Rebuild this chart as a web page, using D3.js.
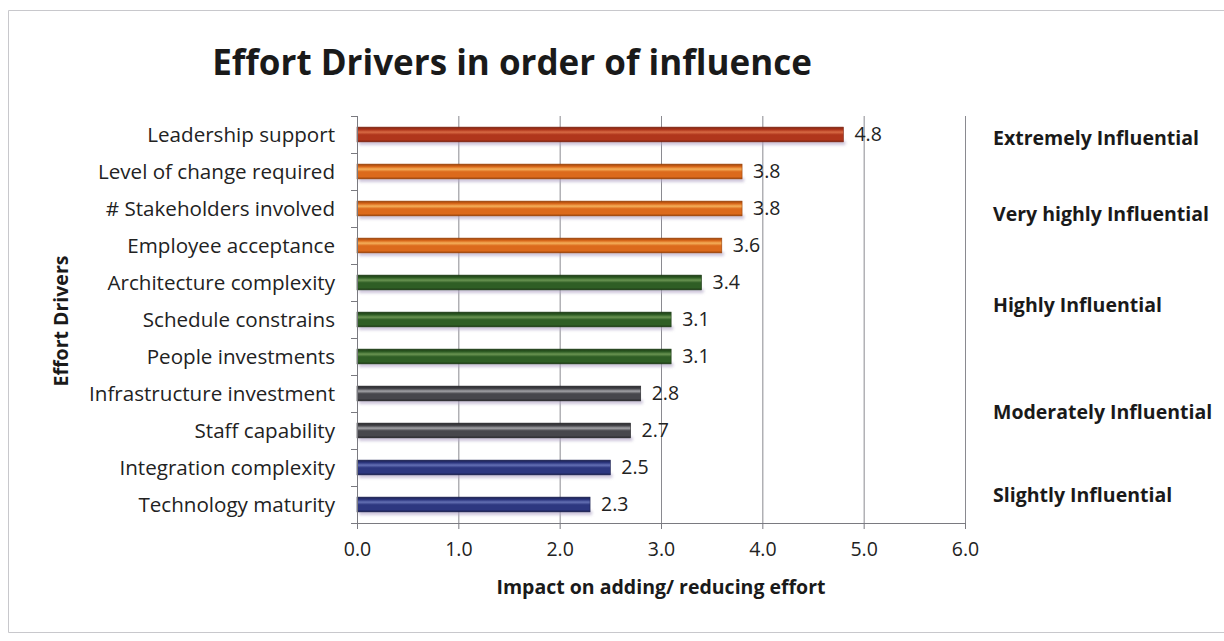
<!DOCTYPE html>
<html>
<head>
<meta charset="utf-8">
<script src="https://cdn.jsdelivr.net/npm/d3@7"></script>
<style>
  html, body { margin: 0; padding: 0; background: #fff; }
  svg { display: block; font-family: "Open Sans", Lato, sans-serif; }
</style>
</head>
<body>
<svg id="chart" width="1224" height="641"></svg>
<script>
// Effort drivers, ordered by influence (top to bottom)
const drivers = [
  "Leadership support",
  "Level of change required",
  "# Stakeholders involved",
  "Employee acceptance",
  "Architecture complexity",
  "Schedule constrains",
  "People investments",
  "Infrastructure investment",
  "Staff capability",
  "Integration complexity",
  "Technology maturity"
];
const scores = [4.8, 3.8, 3.8, 3.6, 3.4, 3.1, 3.1, 2.8, 2.7, 2.5, 2.3];
// Influence tier of each driver
const tiers = ["extreme", "veryHigh", "veryHigh", "veryHigh", "high", "high", "high", "moderate", "moderate", "slight", "slight"];

// Tier captions shown to the right of the plot, and the driver row each sits beside
const tierNames = ["Extremely Influential", "Very highly Influential", "Highly Influential", "Moderately Influential", "Slightly Influential"];
const tierRows = [0.1, 2.15, 4.6, 7.5, 9.75];

const xTicks = [0, 1, 2, 3, 4, 5, 6];

const tierColors = {
  extreme:  { dark: "#7e2412", base: "#b0361c", light: "#d86a44" },
  veryHigh: { dark: "#9a4208", base: "#dc6a1c", light: "#f5b05a" },
  high:     { dark: "#1c3a14", base: "#2f5e25", light: "#6a9452" },
  moderate: { dark: "#26262a", base: "#47474c", light: "#a4a4a8" },
  slight:   { dark: "#1a1f4e", base: "#2d3780", light: "#6470b4" }
};

const FONT = "'Open Sans', Lato, sans-serif";
const svg = d3.select("#chart");
const margin = { left: 357, right: 965, top: 116, bottom: 523 };

// Chart frame
svg.append("path")
  .attr("d", "M1224,10.5 H8.5 V632.5 H1224")
  .attr("fill", "none")
  .attr("stroke", "#c8c8cc")
  .attr("stroke-width", 1);

const x = d3.scaleLinear().domain([0, 6]).range([margin.left, margin.right]);
const y = d3.scaleBand().domain(drivers).range([margin.top, margin.bottom])
  .paddingInner(0.6).paddingOuter(0.3);
const rows = d3.scaleBand().domain(drivers).range([margin.top, margin.bottom]);

// Cylinder-style gradients and soft shadow
const defs = svg.append("defs");
Object.entries(tierColors).forEach(([k, c]) => {
  const g = defs.append("linearGradient").attr("id", "grad-" + k)
    .attr("x1", 0).attr("y1", 0).attr("x2", 0).attr("y2", 1);
  g.append("stop").attr("offset", "0%").attr("stop-color", c.dark);
  g.append("stop").attr("offset", "18%").attr("stop-color", c.base);
  g.append("stop").attr("offset", "34%").attr("stop-color", c.light);
  g.append("stop").attr("offset", "52%").attr("stop-color", c.base);
  g.append("stop").attr("offset", "85%").attr("stop-color", c.base);
  g.append("stop").attr("offset", "100%").attr("stop-color", c.dark);
});
const blur = defs.append("filter").attr("id", "shadow")
  .attr("x", "-5%").attr("y", "-100%").attr("width", "110%").attr("height", "300%");
blur.append("feGaussianBlur").attr("stdDeviation", 1.6);

// Vertical gridlines
svg.append("g").selectAll("line")
  .data(xTicks.slice(1))
  .join("line")
  .attr("x1", d => x(d) + 0.5).attr("x2", d => x(d) + 0.5)
  .attr("y1", margin.top).attr("y2", margin.bottom)
  .attr("stroke", "#8a8a90").attr("stroke-width", 1);

// Bar shadows
svg.append("g").selectAll("rect")
  .data(drivers)
  .join("rect")
  .attr("x", x(0) + 2)
  .attr("y", d => y(d) + y.bandwidth() - 1)
  .attr("width", (d, i) => x(scores[i]) - x(0))
  .attr("height", 4)
  .attr("fill", "#b4a8c8")
  .attr("opacity", 0.7)
  .attr("filter", "url(#shadow)");

// Bars
svg.append("g").selectAll("rect")
  .data(drivers)
  .join("rect")
  .attr("x", x(0))
  .attr("y", d => y(d))
  .attr("width", (d, i) => x(scores[i]) - x(0))
  .attr("height", y.bandwidth())
  .attr("fill", (d, i) => `url(#grad-${tiers[i]})`)
  .attr("stroke", (d, i) => tierColors[tiers[i]].dark)
  .attr("stroke-width", 0.6);

// Value labels
svg.append("g").selectAll("text")
  .data(drivers)
  .join("text")
  .attr("x", (d, i) => x(scores[i]) + 11)
  .attr("y", d => y(d) + y.bandwidth() / 2)
  .attr("dy", "0.35em")
  .attr("font-size", 19.5)
  .attr("fill", "#222")
  .text((d, i) => scores[i].toFixed(1));

// X axis
const xAxis = svg.append("g")
  .attr("transform", `translate(0,${margin.bottom})`)
  .call(d3.axisBottom(x).tickValues(xTicks).tickFormat(d3.format(".1f")).tickSize(6).tickPadding(13));
xAxis.select(".domain").attr("stroke", "#7a7a80");
xAxis.selectAll(".tick line").attr("stroke", "#7a7a80");
xAxis.selectAll(".tick text").attr("font-size", 19.5).attr("fill", "#222")
  .attr("font-family", FONT);

// Y axis: ticks sit on row boundaries
const yAxis = svg.append("g").attr("transform", `translate(${margin.left},0)`);
yAxis.append("line")
  .attr("x1", 0.5).attr("x2", 0.5)
  .attr("y1", margin.top).attr("y2", margin.bottom)
  .attr("stroke", "#7a7a80");
yAxis.selectAll("line.tk")
  .data(drivers.concat(["__end"]))
  .join("line").attr("class", "tk")
  .attr("x1", -6).attr("x2", 0)
  .attr("y1", (d, i) => margin.top + i * rows.step() + 0.5)
  .attr("y2", (d, i) => margin.top + i * rows.step() + 0.5)
  .attr("stroke", "#7a7a80");
yAxis.selectAll("text")
  .data(drivers)
  .join("text")
  .attr("x", -22)
  .attr("y", d => y(d) + y.bandwidth() / 2)
  .attr("dy", "0.35em")
  .attr("text-anchor", "end")
  .attr("font-size", 20.6)
  .attr("fill", "#222")
  .text(d => d);

// Influence tier captions
svg.append("g").selectAll("text")
  .data(tierNames)
  .join("text")
  .attr("x", 993)
  .attr("y", (d, i) => margin.top + tierRows[i] * rows.step() + rows.step() / 2)
  .attr("dy", "0.35em")
  .attr("font-size", 19.5)
  .attr("font-weight", "bold")
  .attr("fill", "#1a1a1a")
  .text(d => d);

// Titles
svg.append("text")
  .attr("x", 512).attr("y", 75)
  .attr("text-anchor", "middle")
  .attr("font-size", 35)
  .attr("font-weight", "bold")
  .attr("fill", "#1a1a1a")
  .text("Effort Drivers in order of influence");

svg.append("text")
  .attr("x", 661).attr("y", 594)
  .attr("text-anchor", "middle")
  .attr("font-size", 19.5)
  .attr("font-weight", "bold")
  .attr("fill", "#1a1a1a")
  .text("Impact on adding/ reducing effort");

svg.append("text")
  .attr("transform", "translate(68,321) rotate(-90)")
  .attr("text-anchor", "middle")
  .attr("font-size", 19.5)
  .attr("font-weight", "bold")
  .attr("fill", "#1a1a1a")
  .text("Effort Drivers");
</script>
</body>
</html>
